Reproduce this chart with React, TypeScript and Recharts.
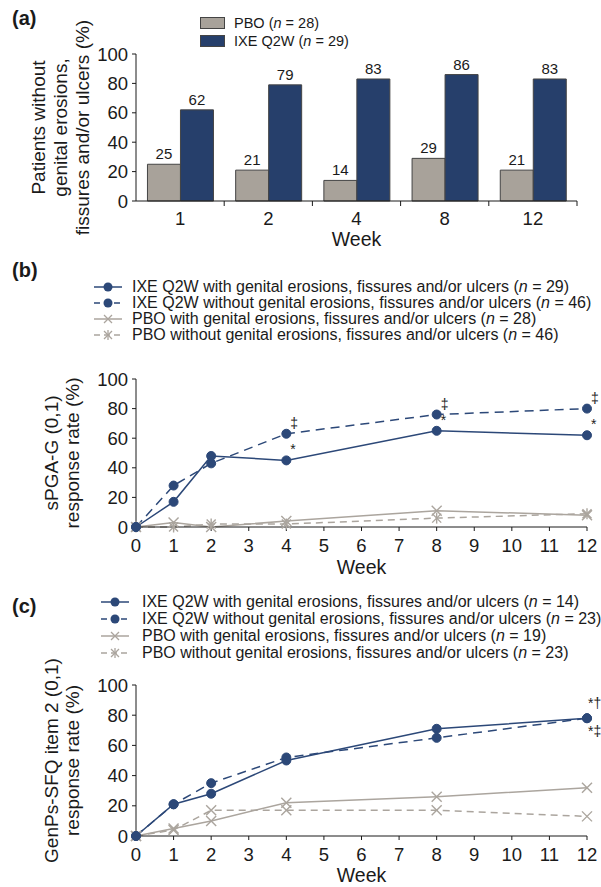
import React from "react";
import { BarChart, Bar, XAxis, YAxis, LabelList, LineChart, Line } from "recharts";

// (a) patients without genital erosions, fissures and/or ulcers
const barWeeks = ["1", "2", "4", "8", "12"];
const pboBar = [25, 21, 14, 29, 21];
const ixeBar = [62, 79, 83, 86, 83];

// shared axes for (b) and (c)
const weeks = [0, 1, 2, 4, 8, 12];
const weekTicks = [0, 1, 2, 3, 4, 5, 6, 7, 8, 9, 10, 11, 12];
const pctTicks = [0, 20, 40, 60, 80, 100];

// (b) sPGA-G (0,1)
const bIxeWith = [0, 17, 48, 45, 65, 62];
const bIxeWithout = [0, 28, 43, 63, 76, 80];
const bPboWith = [0, 3, 0, 4, 11, 8];
const bPboWithout = [0, 0, 2, 2, 6, 9];
const bIxeWithMarks = ["", "", "", "*", "*", "*"];
const bIxeWithoutMarks = ["", "", "", "‡", "‡", "‡"];

// (c) GenPs-SFQ item 2 (0,1)
const cIxeWith = [0, 21, 28, 50, 71, 78];
const cIxeWithout = [0, 21, 35, 52, 65, 78];
const cPboWith = [0, 5, 10, 22, 26, 32];
const cPboWithout = [0, 4, 17, 17, 17, 13];
const cIxeWithMarks = ["", "", "", "", "", "*†"];
const cIxeWithoutMarks = ["", "", "", "", "", "*‡"];

const FONT = "'Liberation Sans', Arial, Helvetica, sans-serif";
const INK = "#1a1a1a";
const BLUE = "#2c4878";
const BAR_BLUE = "#263f6b";
const GRAY = "#aba59e";
const BAR_GRAY = "#a8a29a";

const barRows = barWeeks.map((w, i) => ({ week: w, pbo: pboBar[i], ixe: ixeBar[i] }));

const bRows = weeks.map((w, i) => ({
  week: w,
  ixeWith: bIxeWith[i],
  ixeWithout: bIxeWithout[i],
  pboWith: bPboWith[i],
  pboWithout: bPboWithout[i],
  markWith: bIxeWithMarks[i],
  markWithout: bIxeWithoutMarks[i],
}));

const cRows = weeks.map((w, i) => ({
  week: w,
  ixeWith: cIxeWith[i],
  ixeWithout: cIxeWithout[i],
  pboWith: cPboWith[i],
  pboWithout: cPboWithout[i],
  markWith: cIxeWithMarks[i],
  markWithout: cIxeWithoutMarks[i],
}));

function CircleDot(p: any) {
  if (p.cx == null || p.cy == null) return <g key={p.key} />;
  return <circle key={p.key} cx={p.cx} cy={p.cy} r={4.5} fill={BLUE} stroke={BLUE} />;
}

function CrossDot(p: any) {
  if (p.cx == null || p.cy == null) return <g key={p.key} />;
  const s = 5;
  return (
    <g key={p.key} stroke={GRAY} strokeWidth={1.4}>
      <line x1={p.cx - s} y1={p.cy - s} x2={p.cx + s} y2={p.cy + s} />
      <line x1={p.cx - s} y1={p.cy + s} x2={p.cx + s} y2={p.cy - s} />
    </g>
  );
}

function StarDot(p: any) {
  if (p.cx == null || p.cy == null) return <g key={p.key} />;
  const s = 4.5;
  return (
    <g key={p.key} stroke={GRAY} strokeWidth={1.4}>
      <line x1={p.cx - s} y1={p.cy - s} x2={p.cx + s} y2={p.cy + s} />
      <line x1={p.cx - s} y1={p.cy + s} x2={p.cx + s} y2={p.cy - s} />
      <line x1={p.cx} y1={p.cy - s - 1} x2={p.cx} y2={p.cy + s + 1} />
    </g>
  );
}

const markLabel = (dx: number, dy: number) => (p: any) => {
  if (!p.value) return null;
  const x = p.x ?? p.viewBox?.x;
  const y = p.y ?? p.viewBox?.y;
  return (
    <text x={x + dx} y={y + dy} fontSize={14} fill="#222" stroke="none" fontFamily={FONT} dominantBaseline="central">
      {p.value}
    </text>
  );
};

function YTitle(props: any) {
  const { viewBox, lines, xs } = props;
  const cy = viewBox.y + viewBox.height / 2;
  return (
    <g>
      {lines.map((t: string, i: number) => (
        <text
          key={i}
          x={xs[i]}
          y={cy}
          transform={`rotate(-90, ${xs[i]}, ${cy})`}
          textAnchor="middle"
          dominantBaseline="central"
          fontSize={19}
          fill={INK}
          fontFamily={FONT}
        >
          {t}
        </text>
      ))}
    </g>
  );
}

function WeekTitle(props: any) {
  const { viewBox, dy } = props;
  return (
    <text
      x={viewBox.x + viewBox.width / 2}
      y={viewBox.y + dy}
      textAnchor="middle"
      dominantBaseline="central"
      fontSize={19.5}
      fill={INK}
      fontFamily={FONT}
    >
      Week
    </text>
  );
}

// category tick: label in the band centre, tick mark at the band's right edge
function BandTick(props: any) {
  const { x, y, payload } = props;
  const half = payload?.offset ?? 44;
  return (
    <g>
      <line x1={x + half} x2={x + half} y1={y} y2={y + 5} stroke={INK} />
      <text x={x} y={y + 17} textAnchor="middle" dominantBaseline="central" fontSize={18.5} fill={INK} fontFamily={FONT}>
        {payload.value}
      </text>
    </g>
  );
}

const tickStyle = { fontSize: 18.5, fill: INK, fontFamily: FONT };

function PanelTag({ label, top }: { label: string; top: number }) {
  return (
    <div style={{ position: "absolute", left: 12, top, fontWeight: "bold", fontSize: 20, lineHeight: "22px", fontFamily: FONT, color: INK }}>
      {label}
    </div>
  );
}

function LineIcon({ kind }: { kind: string }) {
  const blue = kind.startsWith("ixe");
  const dashed = kind.endsWith("without");
  const c = blue ? BLUE : GRAY;
  const m = 15;
  return (
    <svg width={30} height={14} style={{ display: "block" }}>
      <line x1={1} y1={7} x2={29} y2={7} stroke={c} strokeWidth={1.5} strokeDasharray={dashed ? "6 4" : undefined} />
      {blue ? (
        <circle cx={m} cy={7} r={4.5} fill={BLUE} />
      ) : (
        <g stroke={GRAY} strokeWidth={1.3}>
          <line x1={m - 4} y1={3} x2={m + 4} y2={11} />
          <line x1={m - 4} y1={11} x2={m + 4} y2={3} />
          {dashed ? <line x1={m} y1={2} x2={m} y2={12} /> : null}
        </g>
      )}
    </svg>
  );
}

function LineLegend({ top, left, gap, rowH, items }: any) {
  return (
    <div style={{ position: "absolute", left, top, fontFamily: FONT, fontSize: 16, color: INK, zIndex: 2 }}>
      {items.map((it: any, i: number) => (
        <div key={i} style={{ display: "flex", alignItems: "center", height: rowH, whiteSpace: "nowrap" }}>
          <LineIcon kind={it.kind} />
          <span style={{ marginLeft: gap }}>
            {it.text} (<i>n</i> = {it.n})
          </span>
        </div>
      ))}
    </div>
  );
}

const withText = "with genital erosions, fissures and/or ulcers";
const withoutText = "without genital erosions, fissures and/or ulcers";

export default function App() {
  return (
    <div style={{ position: "absolute", left: 0, top: 0, width: 601, height: 887, background: "#fff", fontFamily: FONT }}>
      {/* (a) */}
      <PanelTag label="(a)" top={7} />
      <div style={{ position: "absolute", left: 200, top: 14, fontSize: 14.5, color: INK, fontFamily: FONT, zIndex: 2 }}>
        {[
          { fill: BAR_GRAY, text: "PBO", n: 28 },
          { fill: BAR_BLUE, text: "IXE Q2W", n: 29 },
        ].map((it, i) => (
          <div key={i} style={{ display: "flex", alignItems: "center", height: 18 }}>
            <div style={{ width: 23, height: 10, background: it.fill, border: "1px solid #444" }} />
            <span style={{ marginLeft: 9 }}>
              {it.text} (<i>n</i> = {it.n})
            </span>
          </div>
        ))}
      </div>
      <div style={{ position: "absolute", left: 0, top: 0 }}>
        <BarChart width={601} height={260} data={barRows} margin={{ top: 54, right: 24, bottom: 0, left: 76 }} barCategoryGap="13%" barGap={0}>
          <XAxis
            dataKey="week"
            height={59}
            stroke={INK}
            tickLine={false}
            tickSize={0}
            tickMargin={0}
            tick={<BandTick />}
            interval={0}
            label={<WeekTitle dy={38} />}
          />
          <YAxis
            domain={[0, 100]}
            ticks={pctTicks}
            width={60}
            stroke={INK}
            tickSize={4}
            tickMargin={4}
            tick={tickStyle}
            label={<YTitle lines={["Patients without", "genital erosions,", "fissures and/or ulcers (%)"]} xs={[38, 60, 82]} />}
          />
          <Bar dataKey="pbo" fill={BAR_GRAY} stroke="#444" strokeWidth={1} isAnimationActive={false}>
            <LabelList dataKey="pbo" position="top" offset={5} style={{ fontSize: 15, fill: INK, fontFamily: FONT }} />
          </Bar>
          <Bar dataKey="ixe" fill={BAR_BLUE} stroke="#444" strokeWidth={1} isAnimationActive={false}>
            <LabelList dataKey="ixe" position="top" offset={5} style={{ fontSize: 15, fill: INK, fontFamily: FONT }} />
          </Bar>
        </BarChart>
      </div>

      {/* (b) */}
      <PanelTag label="(b)" top={259} />
      <LineLegend
        top={279}
        left={93}
        gap={9}
        rowH={16}
        items={[
          { kind: "ixe-with", text: "IXE Q2W " + withText, n: 29 },
          { kind: "ixe-without", text: "IXE Q2W " + withoutText, n: 46 },
          { kind: "pbo-with", text: "PBO " + withText, n: 28 },
          { kind: "pbo-without", text: "PBO " + withoutText, n: 46 },
        ]}
      />
      <div style={{ position: "absolute", left: 0, top: 350 }}>
        <LineChart width={601} height={240} data={bRows} margin={{ top: 29, right: 14, bottom: 0, left: 76 }}>
          <XAxis
            dataKey="week"
            type="number"
            domain={[0, 12]}
            ticks={weekTicks}
            height={63}
            stroke={INK}
            tickSize={4}
            tickMargin={8}
            tick={tickStyle}
            interval={0}
            label={<WeekTitle dy={40} />}
          />
          <YAxis
            domain={[0, 100]}
            ticks={pctTicks}
            width={60}
            stroke={INK}
            tickSize={4}
            tickMargin={4}
            tick={tickStyle}
            label={<YTitle lines={["sPGA-G (0,1)", "response rate (%)"]} xs={[51, 72]} />}
          />
          <Line dataKey="pboWithout" stroke={GRAY} strokeWidth={1.5} strokeDasharray="7 5" dot={StarDot} isAnimationActive={false} />
          <Line dataKey="pboWith" stroke={GRAY} strokeWidth={1.5} dot={CrossDot} isAnimationActive={false} />
          <Line dataKey="ixeWithout" stroke={BLUE} strokeWidth={1.5} strokeDasharray="9 6" dot={CircleDot} isAnimationActive={false}>
            <LabelList dataKey="markWithout" content={markLabel(4, -11)} />
          </Line>
          <Line dataKey="ixeWith" stroke={BLUE} strokeWidth={1.5} dot={CircleDot} isAnimationActive={false}>
            <LabelList dataKey="markWith" content={markLabel(4, -11)} />
          </Line>
        </LineChart>
      </div>

      {/* (c) */}
      <PanelTag label="(c)" top={595} />
      <LineLegend
        top={593}
        left={100}
        gap={12}
        rowH={17}
        items={[
          { kind: "ixe-with", text: "IXE Q2W " + withText, n: 14 },
          { kind: "ixe-without", text: "IXE Q2W " + withoutText, n: 23 },
          { kind: "pbo-with", text: "PBO " + withText, n: 19 },
          { kind: "pbo-without", text: "PBO " + withoutText, n: 23 },
        ]}
      />
      <div style={{ position: "absolute", left: 0, top: 640 }}>
        <LineChart width={601} height={247} data={cRows} margin={{ top: 45, right: 14, bottom: 0, left: 76 }}>
          <XAxis
            dataKey="week"
            type="number"
            domain={[0, 12]}
            ticks={weekTicks}
            height={51}
            stroke={INK}
            tickSize={4}
            tickMargin={8}
            tick={tickStyle}
            interval={0}
            label={<WeekTitle dy={39} />}
          />
          <YAxis
            domain={[0, 100]}
            ticks={pctTicks}
            width={60}
            stroke={INK}
            tickSize={4}
            tickMargin={4}
            tick={tickStyle}
            label={<YTitle lines={["GenPs-SFQ item 2 (0,1)", "response rate (%)"]} xs={[51, 72]} />}
          />
          <Line dataKey="pboWithout" stroke={GRAY} strokeWidth={1.5} strokeDasharray="7 5" dot={CrossDot} isAnimationActive={false} />
          <Line dataKey="pboWith" stroke={GRAY} strokeWidth={1.5} dot={CrossDot} isAnimationActive={false} />
          <Line dataKey="ixeWithout" stroke={BLUE} strokeWidth={1.5} strokeDasharray="9 6" dot={CircleDot} isAnimationActive={false}>
            <LabelList dataKey="markWithout" content={markLabel(1, 13)} />
          </Line>
          <Line dataKey="ixeWith" stroke={BLUE} strokeWidth={1.5} dot={CircleDot} isAnimationActive={false}>
            <LabelList dataKey="markWith" content={markLabel(1, -15)} />
          </Line>
        </LineChart>
      </div>
    </div>
  );
}
